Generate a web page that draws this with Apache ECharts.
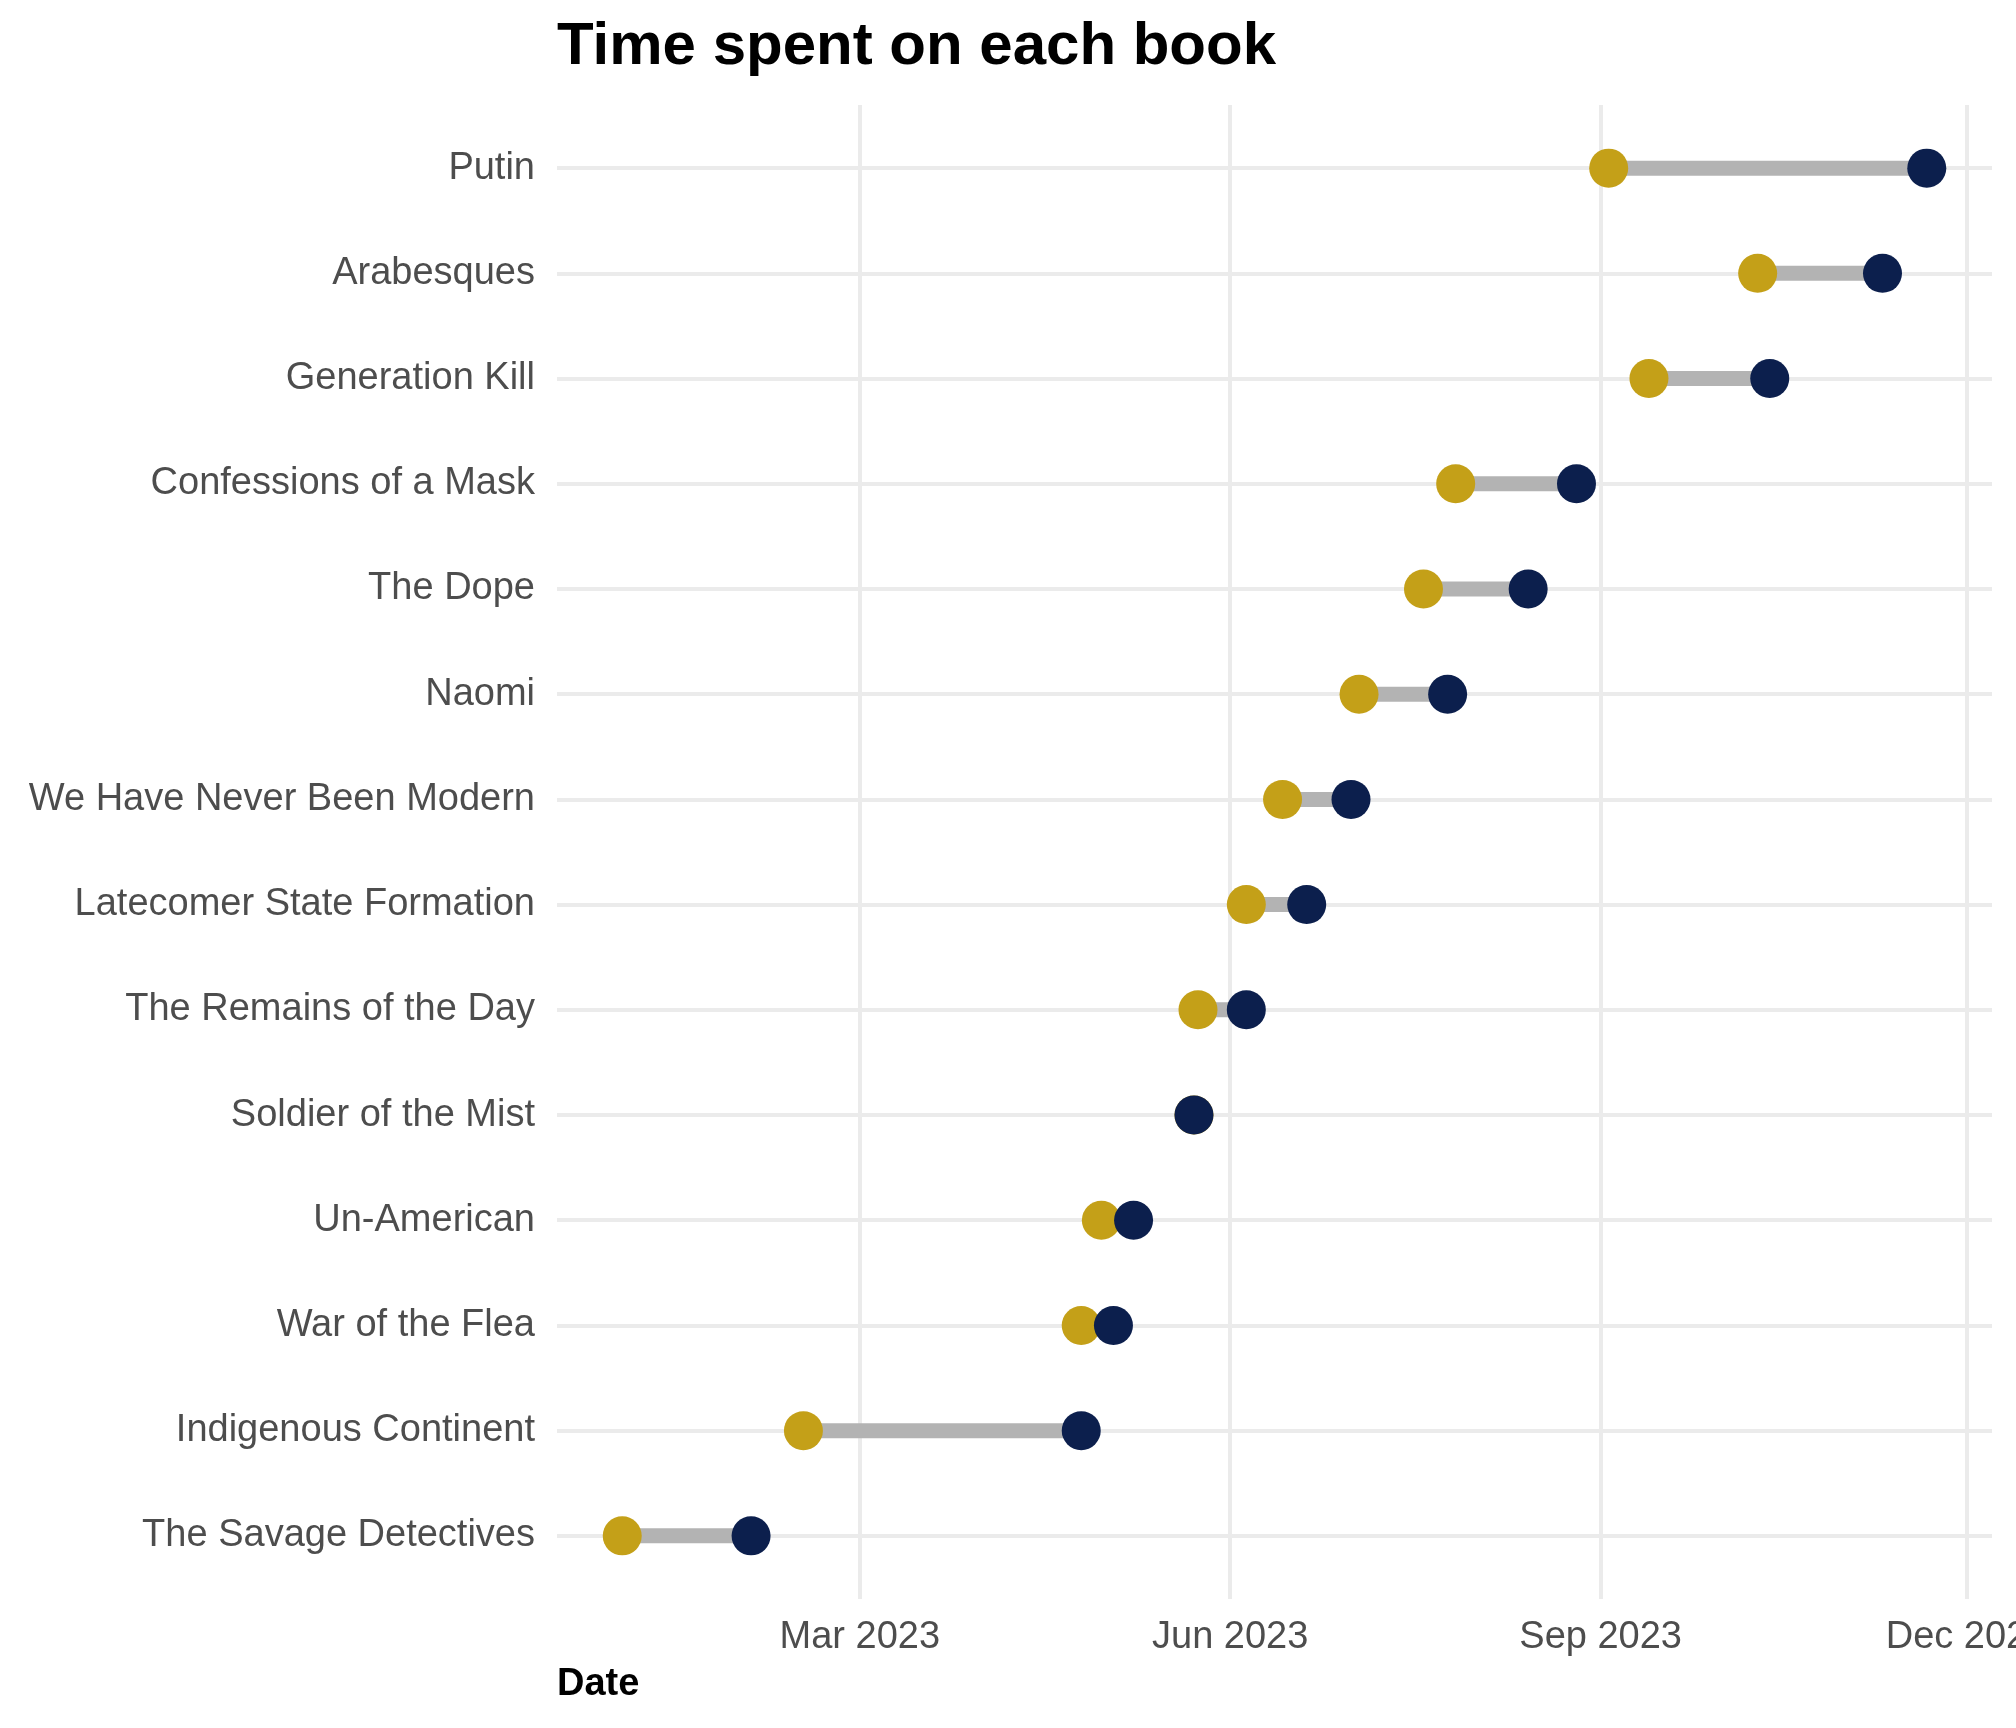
<!DOCTYPE html>
<html>
<head>
<meta charset="utf-8">
<script src="https://cdn.jsdelivr.net/npm/echarts@6/dist/echarts.min.js"></script>
<style>
html,body{margin:0;padding:0;background:#fff;}
#chart{width:2016px;height:1728px;}
</style>
</head>
<body>
<div id="chart"></div>
<script>
// Books, top row first
const books = [
  'Putin', 'Arabesques', 'Generation Kill', 'Confessions of a Mask', 'The Dope',
  'Naomi', 'We Have Never Been Modern', 'Latecomer State Formation',
  'The Remains of the Day', 'Soldier of the Mist', 'Un-American',
  'War of the Flea', 'Indigenous Continent', 'The Savage Detectives'
];
const startDates = [
  '2023-09-03', '2023-10-10', '2023-09-13', '2023-07-27', '2023-07-19',
  '2023-07-03', '2023-06-14', '2023-06-05', '2023-05-24', '2023-05-23',
  '2023-04-30', '2023-04-25', '2023-02-15', '2023-01-01'
];
const endDates = [
  '2023-11-21', '2023-11-10', '2023-10-13', '2023-08-26', '2023-08-14',
  '2023-07-25', '2023-07-01', '2023-06-20', '2023-06-05', '2023-05-23',
  '2023-05-08', '2023-05-03', '2023-04-25', '2023-02-02'
];
const xTickLabels = ['2023-03-01', '2023-06-01', '2023-09-01', '2023-12-01'];
const monthNames = ['Jan','Feb','Mar','Apr','May','Jun','Jul','Aug','Sep','Oct','Nov','Dec'];

const ts = s => Date.parse(s + 'T00:00:00Z');
const startT = startDates.map(ts);
const endT = endDates.map(ts);
const allT = startT.concat(endT);
const dMin = Math.min(...allT), dMax = Math.max(...allT);
const pad = (dMax - dMin) * 0.05;
const xTicks = xTickLabels.map(ts);
const rowIdx = books.map((b, i) => i);

const FONT = 'Liberation Sans';
const chart = echarts.init(document.getElementById('chart'));
chart.setOption({
  animation: false,
  backgroundColor: '#ffffff',
  title: [
    { text: 'Time spent on each book', left: 557, top: 17, padding: 0,
      textStyle: { fontFamily: FONT, fontSize: 60, fontWeight: 'bold', color: '#000000' } },
    { text: 'Date', left: 557, top: 1666, padding: 0,
      textStyle: { fontFamily: FONT, fontSize: 38, fontWeight: 'bold', color: '#000000' } }
  ],
  grid: { left: 557, right: 24, top: 105, bottom: 129, containLabel: false, outerBoundsMode: 'none' },
  xAxis: {
    type: 'value',
    min: dMin - pad,
    max: dMax + pad,
    axisLine: { show: false },
    axisTick: { show: false, customValues: xTicks },
    axisLabel: {
      customValues: xTicks,
      margin: 20,
      hideOverlap: false,
      fontFamily: FONT, fontSize: 38, color: '#4D4D4D',
      formatter: v => { const d = new Date(v); return monthNames[d.getUTCMonth()] + ' ' + d.getUTCFullYear(); }
    },
    splitLine: { show: true, lineStyle: { color: '#EBEBEB', width: 4 } }
  },
  yAxis: {
    type: 'value',
    inverse: true,
    min: -0.6,
    max: books.length - 1 + 0.6,
    axisLine: { show: false },
    axisTick: { show: false, customValues: rowIdx },
    axisLabel: {
      customValues: rowIdx,
      margin: 22,
      fontFamily: FONT, fontSize: 38, color: '#4D4D4D',
      formatter: v => books[Math.round(v)] || ''
    },
    splitLine: { show: true, lineStyle: { color: '#EBEBEB', width: 4 } }
  },
  series: [
    {
      type: 'custom',
      name: 'span',
      data: books.map((b, i) => [startT[i], endT[i], i]),
      encode: { x: [0, 1], y: 2 },
      renderItem: (params, api) => {
        const p1 = api.coord([api.value(0), api.value(2)]);
        const p2 = api.coord([api.value(1), api.value(2)]);
        return {
          type: 'line',
          shape: { x1: p1[0], y1: p1[1], x2: p2[0], y2: p2[1] },
          style: { stroke: '#B3B3B3', lineWidth: 15 }
        };
      },
      z: 2
    },
    {
      type: 'scatter', name: 'Start',
      data: books.map((b, i) => [startT[i], i]),
      symbolSize: 39,
      itemStyle: { color: '#C4A018', opacity: 1 },
      z: 3
    },
    {
      type: 'scatter', name: 'End',
      data: books.map((b, i) => [endT[i], i]),
      symbolSize: 39,
      itemStyle: { color: '#0C1F4D', opacity: 1 },
      z: 4
    }
  ]
});
</script>
</body>
</html>
